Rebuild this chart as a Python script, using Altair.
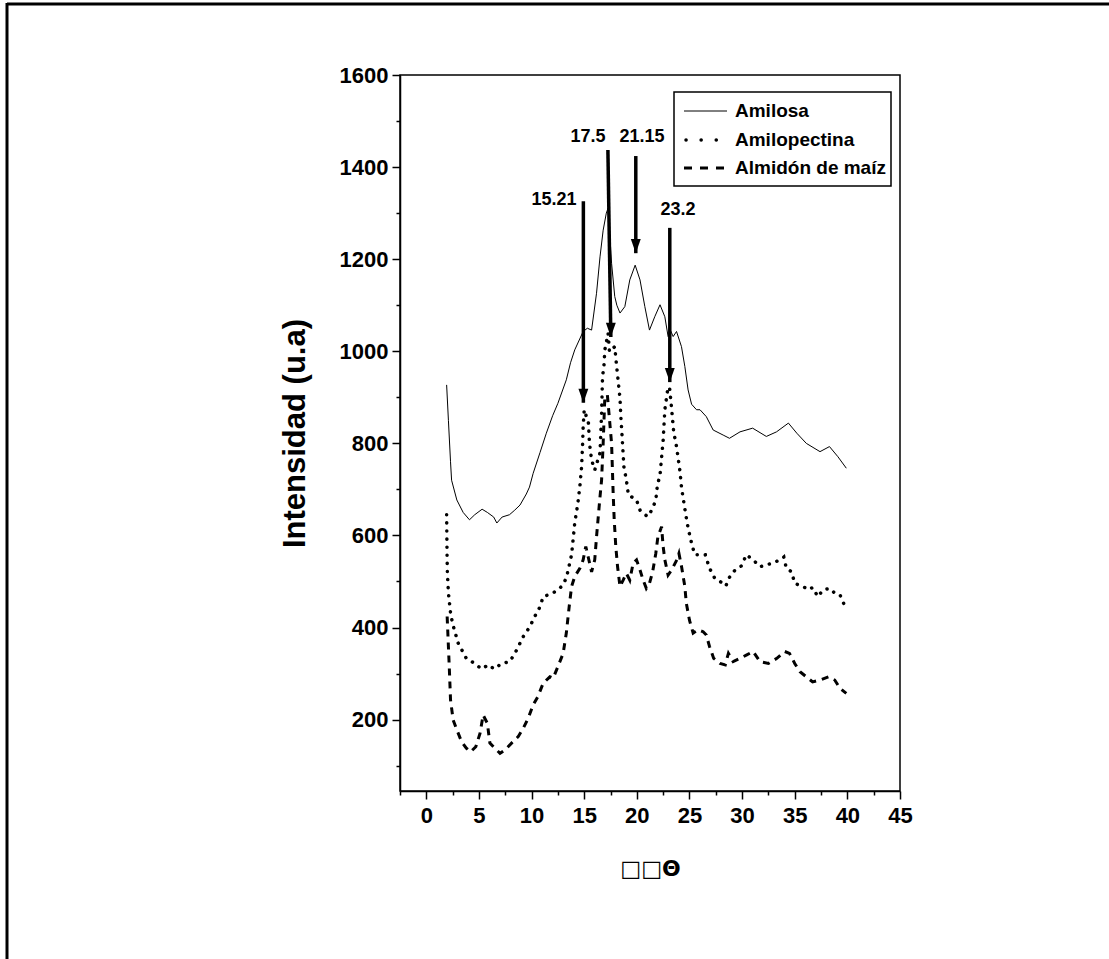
import altair as alt
import pandas as pd

# ---- X-ray diffraction patterns (2-theta vs intensity) ----
amilosa_x = [1.93, 2.1, 2.3, 2.4, 2.9, 3.5, 4.1, 4.6, 5.3, 5.8, 6.4, 6.7, 7.2, 7.9, 8.4, 8.9,
             9.5, 9.8, 10.15, 10.8, 11.4, 12.0, 12.5, 13.3, 13.7, 14.1, 14.9, 15.3, 15.7,
             16.17, 16.5, 16.8, 17.1, 17.27, 17.6, 17.9, 18.1, 18.4, 18.86, 19.33, 19.84,
             20.3, 20.76, 21.2, 21.7, 22.2, 22.66, 22.97, 23.2, 23.45, 23.77, 24.24, 24.56,
             24.87, 25.2, 25.67, 26.0, 26.6, 27.25, 28.2, 28.8, 29.8, 31.0, 32.3, 33.27,
             34.4, 35.2, 36.1, 37.4, 38.3, 39.1, 39.9]
amilosa_y = [927, 850, 760, 720, 677, 650, 634, 645, 657, 650, 640, 627, 640, 645, 655, 666,
             690, 705, 735, 780, 822, 860, 887, 938, 975, 1003, 1043, 1050, 1046,
             1126, 1205, 1263, 1300, 1311, 1191, 1119, 1100, 1083, 1097, 1155, 1187,
             1155, 1097, 1046, 1075, 1101, 1075, 1032, 1045, 1032, 1043, 1010, 967,
             916, 885, 873, 873, 858, 829, 818, 811, 825, 833, 815, 825,
             844, 822, 800, 782, 793, 771, 746]

amilopectina_x = [1.93, 1.95, 1.97, 2.0, 2.1, 2.3, 2.5, 3.03, 3.8, 4.6, 5.25, 5.9, 6.45, 7.15,
                  7.94, 8.58, 9.2, 9.84, 10.3, 10.8, 11.1, 12.05, 12.85, 13.3, 13.8, 14.1,
                  14.4, 14.6, 14.75, 14.84, 14.9, 15.0, 15.4, 15.5, 15.7, 16.0, 16.5, 16.65,
                  16.74, 16.87, 16.96, 17.27, 17.4, 17.9, 18.07, 18.2, 18.4, 18.48, 18.6,
                  18.77, 19.0, 19.2, 19.97, 20.3, 20.76, 21.07, 21.5, 21.8, 21.96, 22.2, 22.5,
                  22.66, 22.9, 23.1, 23.3, 23.5, 23.77, 24.1, 24.25, 24.65, 24.87, 25.2, 25.5,
                  25.98, 26.5, 26.9, 27.4, 28.04, 28.45, 28.8, 29.3, 29.94, 30.4, 31.05, 31.7,
                  32.3, 32.9, 33.6, 33.96, 34.2, 34.7, 35.0, 35.8, 36.3, 36.7, 37.2, 37.7,
                  38.3, 38.8, 39.3, 39.75]
amilopectina_y = [645, 600, 558, 520, 475, 432, 408, 366, 333, 322, 310, 319, 310, 322,
                  326, 351, 380, 402, 424, 445, 467, 475, 489, 507, 558, 627,
                  670, 710, 749, 793, 836, 873, 844, 800, 764, 742, 779, 865,
                  945, 967, 1003, 1039, 999, 1010, 970, 941, 898, 858, 815,
                  749, 721, 688, 677, 655, 645, 641, 659, 677, 710, 731, 807,
                  873, 912, 923, 876, 825, 793, 739, 703, 645, 616, 583, 558,
                  558, 558, 529, 507, 498, 490, 509, 524, 534, 558, 547, 532,
                  536, 540, 547, 553, 529, 521, 496, 489, 482, 487, 467, 482,
                  485, 475, 471, 447]

almidon_x = [1.98, 2.18, 2.3, 2.55, 2.9, 3.35, 3.8, 4.2, 4.7, 5.1, 5.4, 5.8, 6.04, 6.5, 7.0,
             7.46, 8.1, 8.73, 9.2, 9.68, 10.15, 10.6, 11.1, 11.74, 12.05, 12.5, 13.0, 13.3,
             13.57, 13.8, 14.1, 14.6, 14.9, 15.15, 15.4, 15.7, 16.0, 16.2, 16.5, 16.65, 16.8,
             16.96, 17.2, 17.6, 17.75, 17.85, 18.0, 18.17, 18.4, 18.7, 19.0, 19.33, 19.65,
             19.97, 20.3, 20.6, 20.9, 21.2, 21.5, 21.8, 22.0, 22.35, 22.5, 22.66, 22.97,
             23.3, 23.8, 24.0, 24.25, 24.56, 24.7, 25.0, 25.35, 25.8, 26.3, 26.6, 26.9,
             27.3, 27.9, 28.4, 28.7, 29.15, 29.8, 30.4, 31.05, 31.7, 32.5, 33.3, 34.05,
             34.5, 35.0, 35.5, 36.1, 36.7, 37.4, 38.2, 38.8, 39.3, 39.9]
almidon_y = [424, 315, 243, 199, 178, 152, 138, 130, 141, 170, 210, 192, 149, 138, 127,
             134, 149, 163, 181, 203, 232, 250, 279, 293, 290, 315, 344, 388,
             445, 489, 511, 529, 547, 576, 551, 521, 547, 605, 684, 720, 800,
             901, 905, 800, 692, 634, 576, 532, 489, 503, 518, 503, 540,
             547, 525, 503, 485, 496, 521, 561, 597, 619, 576, 547, 514,
             525, 547, 561, 532, 489, 453, 416, 388, 395, 391, 384, 359,
             333, 322, 319, 344, 326, 333, 340, 348, 326, 322, 333, 348,
             344, 322, 304, 293, 282, 286, 293, 286, 268, 257]

series_names = ["Amilosa", "Amilopectina", "Almidón de maíz"]

# ---- peak annotations ----
peak_labels = ["15.21", "17.5", "21.15", "23.2"]
label_x = [12.12, 15.35, 20.48, 23.9]
label_y = [1329, 1465, 1465, 1307]
arrow_x_top = [14.92, 17.25, 19.9, 23.13]
arrow_x_tip = [14.92, 17.53, 19.9, 23.13]
arrow_y_top = [1326, 1437, 1424, 1268]
arrow_y_tip = [888, 1031, 1213, 933]

FONT = "Arial, Liberation Sans, sans-serif"
X_DOMAIN = [-2.5, 45]
Y_DOMAIN = [45, 1600]

x_ticks = [-2.5, 0, 2.5, 5, 7.5, 10, 12.5, 15, 17.5, 20, 22.5, 25, 27.5, 30,
           32.5, 35, 37.5, 40, 42.5, 45]
y_ticks = [100, 200, 300, 400, 500, 600, 700, 800, 900, 1000, 1100, 1200,
           1300, 1400, 1500, 1600]

x_scale = alt.Scale(domain=X_DOMAIN, nice=False, zero=False)
y_scale = alt.Scale(domain=Y_DOMAIN, nice=False, zero=False)

X_MAJOR = "abs(datum.value / 5 - round(datum.value / 5)) < 0.001"
Y_MAJOR = "abs(datum.value / 200 - round(datum.value / 200)) < 0.001"

x_axis = alt.Axis(
    values=x_ticks,
    format="d",
    labelOverlap=False,
    labelFlush=False,
    labelExpr=f"{X_MAJOR} ? format(datum.value, 'd') : ''",
    tickSize={"condition": {"test": X_MAJOR, "value": 8}, "value": 4},
    title="□□Θ",
    titleFont="DejaVu Sans",
    titleFontSize=22,
    titlePadding=32,
    labelPadding=6,
)
y_axis = alt.Axis(
    values=y_ticks,
    format="d",
    labelOverlap=False,
    labelExpr=f"{Y_MAJOR} ? format(datum.value, 'd') : ''",
    tickSize={"condition": {"test": Y_MAJOR, "value": 8}, "value": 4},
    title="Intensidad (u.a)",
    titleFontSize=31,
    titlePadding=28,
    labelPadding=4,
)


def series_frame(xs, ys, name):
    return pd.DataFrame({"two_theta": xs, "intensity": ys, "serie": name})


df_amilosa = series_frame(amilosa_x, amilosa_y, series_names[0])
df_amilopectina = series_frame(amilopectina_x, amilopectina_y, series_names[1])
df_almidon = series_frame(almidon_x, almidon_y, series_names[2])

enc_x = alt.X("two_theta:Q", scale=x_scale, axis=x_axis)
enc_y = alt.Y("intensity:Q", scale=y_scale, axis=y_axis)

line_amilosa = alt.Chart(df_amilosa).mark_line(
    color="black", strokeWidth=1
).encode(x=enc_x, y=enc_y)

line_amilopectina = alt.Chart(df_amilopectina).mark_line(
    color="black", strokeWidth=3.5, strokeDash=[0.1, 8], strokeCap="round"
).encode(x=enc_x, y=enc_y)

line_almidon = alt.Chart(df_almidon).mark_line(
    color="black", strokeWidth=3, strokeDash=[7, 6]
).encode(x=enc_x, y=enc_y)

# arrows pointing to the peaks
df_arrows = pd.DataFrame({
    "x_top": arrow_x_top, "x_tip": arrow_x_tip,
    "y_top": arrow_y_top, "y_tip": arrow_y_tip,
})
arrow_shafts = alt.Chart(df_arrows).mark_rule(
    color="black", strokeWidth=3.5
).encode(
    x=alt.X("x_top:Q", scale=x_scale, axis=x_axis), x2="x_tip:Q",
    y=alt.Y("y_top:Q", scale=y_scale, axis=y_axis), y2="y_tip:Q"
)
arrow_heads = alt.Chart(df_arrows).mark_point(
    shape="M-0.7,-2L0.7,-2L0,0Z", filled=True, color="black", opacity=1, size=200
).encode(
    x=alt.X("x_tip:Q", scale=x_scale, axis=x_axis),
    y=alt.Y("y_tip:Q", scale=y_scale, axis=y_axis),
)

df_labels = pd.DataFrame({"lx": label_x, "ly": label_y, "txt": peak_labels})
peak_text = alt.Chart(df_labels).mark_text(
    font=FONT, fontSize=18, fontWeight="bold", color="black",
    align="center", baseline="middle"
).encode(
    x=alt.X("lx:Q", scale=x_scale, axis=x_axis),
    y=alt.Y("ly:Q", scale=y_scale, axis=y_axis),
    text="txt:N",
)

# legend box drawn in pixel space of the plot area
one = pd.DataFrame({"k": [0]})
legend_box = alt.Chart(one).mark_rect(
    fill="white", stroke="black", strokeWidth=1.5
).encode(
    x=alt.value(274), x2=alt.value(491), y=alt.value(17), y2=alt.value(111)
)
legend_rows = [36, 65, 93]
legend_solid = alt.Chart(one).mark_rule(color="black", strokeWidth=1).encode(
    x=alt.value(284), x2=alt.value(327), y=alt.value(legend_rows[0])
)
legend_dotted = alt.Chart(one).mark_rule(
    color="black", strokeWidth=3.5, strokeDash=[0.1, 15], strokeCap="round"
).encode(x=alt.value(286), x2=alt.value(330), y=alt.value(legend_rows[1]))
legend_dashed = alt.Chart(one).mark_rule(
    color="black", strokeWidth=3, strokeDash=[8, 8]
).encode(x=alt.value(284), x2=alt.value(327), y=alt.value(legend_rows[2]))
legend_text = alt.Chart(
    pd.DataFrame({"name": series_names, "row": legend_rows})
).mark_text(
    font=FONT, fontSize=19, fontWeight="bold", color="black",
    align="left", baseline="middle", dx=0
).encode(x=alt.value(335), y=alt.Y("row:Q", scale=None), text="name:N")

# outer frame of the figure
frame_top = alt.Chart(one).mark_rule(color="black", strokeWidth=3).encode(
    x=alt.value(-393), x2=alt.value(720), y=alt.value(-71)
)
frame_left = alt.Chart(one).mark_rule(color="black", strokeWidth=3).encode(
    x=alt.value(-393), y=alt.value(-72), y2=alt.value(900)
)

chart = alt.layer(
    line_amilosa, line_amilopectina, line_almidon,
    arrow_shafts, arrow_heads, peak_text,
    legend_box, legend_solid, legend_dotted, legend_dashed, legend_text,
    frame_top, frame_left,
).properties(
    width=500, height=716,
    padding={"left": 400, "top": 75, "right": 209, "bottom": 168},
    autosize=alt.AutoSizeParams(type="none"),
    background="white",
).configure_view(
    stroke="black", strokeWidth=1.5
).configure_axis(
    grid=False,
    domainColor="black", domainWidth=1.5,
    tickColor="black", tickWidth=1.5,
    labelFont=FONT, labelFontSize=22, labelFontWeight="bold", labelColor="black",
    titleFont=FONT, titleFontWeight="bold", titleColor="black",
)

chart.save("out.html", embed_options={"renderer": "svg", "actions": False})
